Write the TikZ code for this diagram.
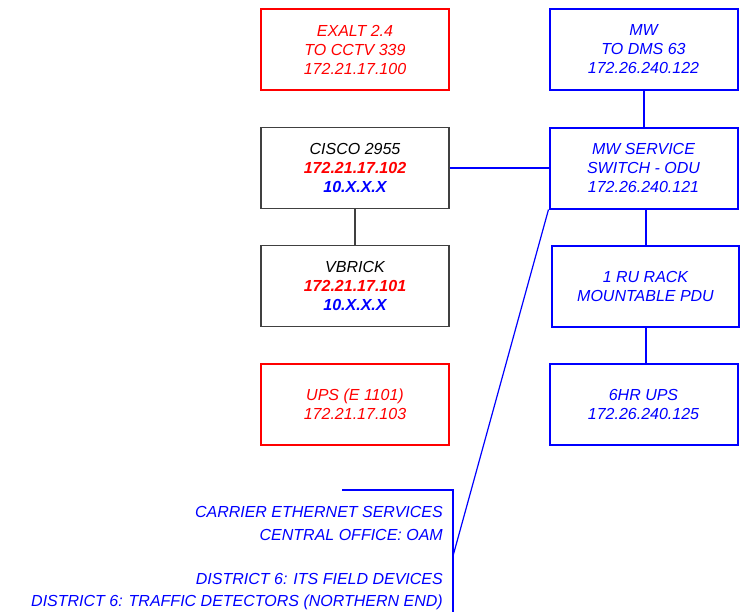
\documentclass[tikz,border=0pt]{standalone}
\usepackage{fontspec}
\setmainfont{Liberation Sans}
\definecolor{rd}{RGB}{255,0,0}
\definecolor{bl}{RGB}{0,0,255}
\begin{document}
\begin{tikzpicture}[x=1pt,y=-1pt,
  box/.style={draw,rectangle,minimum width=188pt,minimum height=81pt,inner sep=0pt,align=center,
    font=\fontsize{16}{19}\selectfont\itshape},
  redbox/.style={box,draw=rd,text=rd,line width=2pt},
  bluebox/.style={box,draw=bl,text=bl,line width=2pt},
  blackbox/.style={box,draw=black!75,text=black,line width=1.3pt},
  bline/.style={draw=bl,line width=2pt},
  thinb/.style={draw=bl,line width=1.2pt},
  lbl/.style={anchor=base east,inner sep=0pt,text=bl,font=\fontsize{16}{19}\selectfont\itshape}]
\useasboundingbox (0,0) rectangle (753,614);
\node[redbox] (exalt) at (355,49.5) {EXALT 2.4\\TO CCTV 339\\172.21.17.100};
\node[bluebox] (mw) at (643.5,49.5) {MW\\TO DMS 63\\172.26.240.122};
\node[blackbox] (cisco) at (355,168) {CISCO 2955\\\textbf{\color{rd}172.21.17.102}\\\textbf{\color{bl}10.X.X.X}};
\node[bluebox] (mws) at (643.5,168) {MW SERVICE\\SWITCH - ODU\\172.26.240.121};
\node[blackbox] (vbrick) at (355,286) {VBRICK\\\textbf{\color{rd}172.21.17.101}\\\textbf{\color{bl}10.X.X.X}};
\node[bluebox,minimum width=187pt] (pdu) at (645.5,286) {1 RU RACK\\MOUNTABLE PDU};
\node[redbox] (ups) at (355,404) {UPS (E 1101)\\172.21.17.103};
\node[bluebox] (ups6) at (643.5,404) {6HR UPS\\172.26.240.125};

\draw[bline] (mw.south) -- (mws.north);
\draw[bline] (cisco.east) -- (mws.west);
\draw[draw=black!75,line width=1.3pt] (cisco.south) -- (vbrick.north);
\draw[bline] (pdu.north) -- (pdu.north |- mws.south);
\draw[bline] (pdu.south) -- (pdu.south |- ups6.north);

\coordinate (bt) at (342,490);
\coordinate (bc) at (453,490);
\coordinate (bb) at (453,612);
\coordinate (bd) at (453,556);
\draw[thinb] (bt) -- (bc) -- (bb);
\draw[thinb] (mws.south west) -- (bd);

\node[lbl] (t1) at (443,517.7) {CARRIER ETHERNET SERVICES};
\node[lbl] (t2) at (443,540) {CENTRAL OFFICE: OAM};
\node[lbl] (t3) at (443,584.3) {DISTRICT 6: ITS FIELD DEVICES};
\node[lbl] (t4) at (443,606.7) {DISTRICT 6: TRAFFIC DETECTORS (NORTHERN END)};
\end{tikzpicture}
\end{document}
